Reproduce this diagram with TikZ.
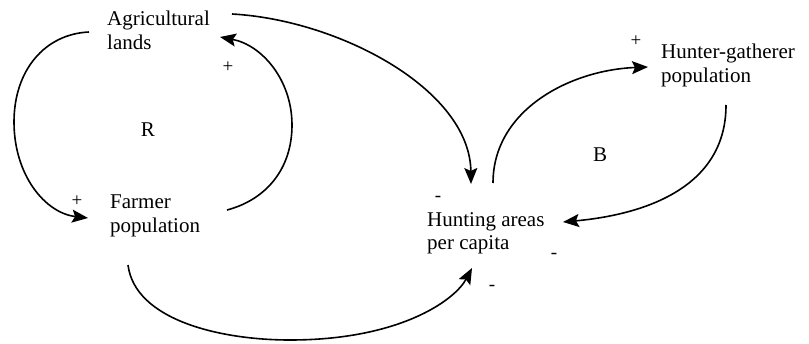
\documentclass[tikz,border=0pt]{standalone}
\usepackage{fontspec}
\setmainfont{Liberation Serif}
\newfontfamily\diagfont{Liberation Serif}
\usetikzlibrary{arrows.meta}
\begin{document}
\begin{tikzpicture}[x=1pt,y=-1pt,
  lbl/.style={inner sep=0pt,anchor=north west,align=left,font=\diagfont\fontsize{21}{23.5}\selectfont},
  sgn/.style={inner sep=0pt,font=\diagfont\fontsize{19}{19}\selectfont},
  loopname/.style={inner sep=0pt,font=\diagfont\fontsize{21}{21}\selectfont},
  link/.style={line width=1.6pt,-{Stealth[length=16pt,width=13pt,inset=3pt]}}]
\useasboundingbox (0,0) rectangle (809,343);
% variables
\node[lbl] (ag) at (107,11) {Agricultural\\lands};
\node[lbl] (fp) at (110,195) {Farmer\\population};
\node[lbl] (ha) at (427,212) {Hunting areas\\per capita};
\node[lbl] (hg) at (661,44) {Hunter-gatherer\\population};
% loop labels
\node[loopname] (R) at (148,130) {R};
\node[loopname] (B) at (600,155) {B};
% polarity signs
\node[sgn] (p1) at (228,67) {+};
\node[sgn] (p2) at (77,201) {+};
\node[sgn] (p3) at (636,41) {+};
\node[sgn] (m1) at (438,199) {-};
\node[sgn] (m2) at (554,256) {-};
\node[sgn] (m3) at (492,288) {-};
% connector ends
\coordinate (agL) at (89,32);
\coordinate (agR) at (220,37);
\coordinate (agE) at (232,14);
\coordinate (fpL) at (88,218);
\coordinate (fpR) at (227,210);
\coordinate (fpB) at (128,265);
\coordinate (haT) at (471,184);
\coordinate (haS) at (493,183);
\coordinate (haR) at (563,222);
\coordinate (haB) at (472,268);
\coordinate (hgL) at (648,67);
\coordinate (hgB) at (726,105);
% connectors
\draw[link] (agL) .. controls (45,34) and (14,70) .. (14,122) .. controls (14,175) and (45,213) .. (fpL);
\draw[link] (fpR) .. controls (265,200) and (292,170) .. (292,125) .. controls (292,80) and (262,45) .. (agR);
\draw[link] (agE) .. controls (340,20) and (470,90) .. (haT);
\draw[link] (haS) .. controls (493,110) and (570,70) .. (hgL);
\draw[link] (hgB) .. controls (726,190) and (640,215) .. (haR);
\draw[link] (fpB) .. controls (135,320) and (220,340) .. (290,340) .. controls (400,340) and (455,300) .. (haB);
\end{tikzpicture}
\end{document}
